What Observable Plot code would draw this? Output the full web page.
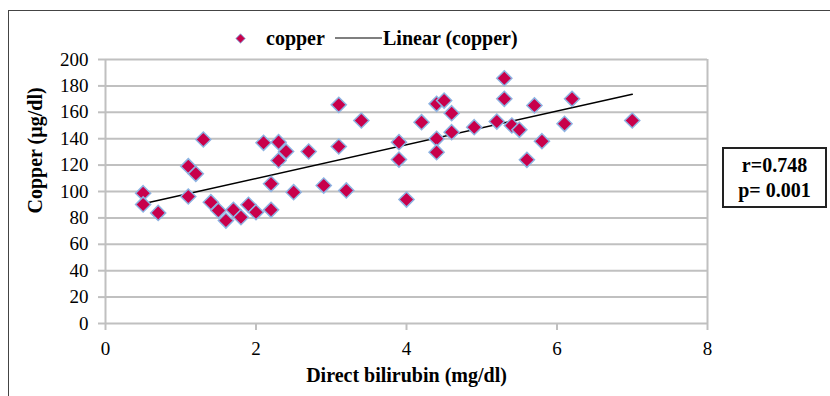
<!DOCTYPE html>
<html>
<head>
<meta charset="utf-8">
<script src="https://cdn.jsdelivr.net/npm/d3@7"></script>
<script src="https://cdn.jsdelivr.net/npm/@observablehq/plot@0.6"></script>
<style>
  html, body { margin: 0; padding: 0; background: #fff; }
  #wrap { position: relative; width: 830px; height: 396px; overflow: hidden; font-family: "Liberation Serif", "Times New Roman", serif; }
  #frame { position: absolute; left: 8px; top: 10px; width: 900px; height: 500px; border-left: 1.5px solid #444; border-top: 1.5px solid #444; box-sizing: border-box; }
  #legend { position: absolute; left: 0; top: 24px; width: 830px; height: 28px; font-weight: bold; font-size: 20px; color: #000; }
  #legend .item { position: absolute; top: 0; line-height: 28px; white-space: nowrap; }
  #stats { position: absolute; left: 722px; top: 147px; width: 105px; height: 61px; border: 2px solid #222; box-sizing: border-box; font-weight: bold; font-size: 20px; text-align: center; line-height: 25px; padding-top: 4px; }
  #chart { position: absolute; left: 0; top: 0; }
</style>
</head>
<body>
<div id="wrap">
  <div id="frame"></div>
  <div id="chart"></div>
  <div id="legend">
    <svg class="item" style="left:235px; top:9px" width="11" height="11" viewBox="0 0 11 11"><path d="M5.5 0.8 L10.2 5.5 L5.5 10.2 L0.8 5.5 Z" fill="#c8004b" stroke="#8db3e2" stroke-width="1"/></svg>
    <span class="item" id="lg1" style="left:266px"></span>
    <svg class="item" style="left:335px; top:13px" width="47" height="2"><line x1="0" y1="1" x2="47" y2="1" stroke="#000" stroke-width="1.2"/></svg>
    <span class="item" id="lg2" style="left:383px"></span>
  </div>
  <div id="stats"><div id="st1"></div><div id="st2"></div></div>
</div>
<script>
// Data
const bilirubin = [0.5, 0.5, 0.7, 1.1, 1.1, 1.2, 1.3, 1.4, 1.5, 1.6, 1.7, 1.8, 1.9, 2.0, 2.1, 2.2, 2.2, 2.3, 2.3, 2.4, 2.5, 2.7, 2.9, 3.1, 3.1, 3.2, 3.4, 3.9, 3.9, 4.0, 4.2, 4.4, 4.4, 4.4, 4.5, 4.6, 4.6, 4.9, 5.2, 5.3, 5.3, 5.4, 5.5, 5.6, 5.7, 5.8, 6.1, 6.2, 7.0];
const copper    = [98.7, 90.2, 83.8, 119.2, 96.2, 113.4, 139.4, 91.9, 85.6, 78, 86.1, 80.5, 89.9, 84.3, 136.9, 105.8, 86.1, 137.4, 123.5, 130.3, 99.5, 130.3, 104.5, 165.7, 134.1, 100.8, 153.8, 137.4, 124.2, 93.9, 152.5, 166.4, 139.9, 129.8, 168.9, 159.3, 144.9, 148.7, 153, 185.8, 170.2, 150, 146.7, 124, 165.2, 138.1, 151.3, 170.2, 153.8];
const xTicks = [0, 2, 4, 6, 8];
const yTicks = [0, 20, 40, 60, 80, 100, 120, 140, 160, 180, 200];
const seriesName = "copper";
const trendName = "Linear (copper)";
const xTitle = "Direct bilirubin (mg/dl)";
const yTitle = "Copper (µg/dl)";
const statLines = ["r=0.748", "p= 0.001"];

const data = bilirubin.map((x, i) => ({x, y: copper[i]}));

document.getElementById("lg1").textContent = seriesName;
document.getElementById("lg2").textContent = trendName;
document.getElementById("st1").textContent = statLines[0];
document.getElementById("st2").textContent = statLines[1];

const chart = Plot.plot({
  width: 830,
  height: 396,
  marginLeft: 105,
  marginRight: 123,
  marginTop: 59,
  marginBottom: 73,
  style: {fontFamily: "Liberation Serif, Times New Roman, serif", fontSize: "19px", color: "#000", background: "transparent", overflow: "visible"},
  x: {domain: [0, 8], label: null},
  y: {domain: [0, 200], label: null},
  marks: [
    Plot.ruleY(yTicks, {stroke: "#c0c0c0", strokeWidth: 2}),
    Plot.ruleX([8], {stroke: "#c0c0c0", strokeWidth: 2}),
    Plot.ruleX([0], {stroke: "#c0c0c0", strokeWidth: 2}),
    Plot.axisY({ticks: yTicks, tickSize: 7, tickPadding: 10, stroke: "#c0c0c0", strokeWidth: 2, fill: "#000", label: null, fontSize: 19}),
    Plot.axisX({ticks: xTicks, tickSize: 7, tickPadding: 11, stroke: "#c0c0c0", strokeWidth: 2, fill: "#000", label: null, fontSize: 19}),
    Plot.linearRegressionY(data, {x: "x", y: "y", ci: 0, stroke: "#000", strokeWidth: 1.5}),
    Plot.dot(data, {x: "x", y: "y", symbol: "diamond2", r: 6.8, fill: "#c8004b", stroke: "#8db3e2", strokeWidth: 1.5}),
    Plot.text([xTitle], {frameAnchor: "bottom", dy: 58, fontWeight: "bold", fontSize: 20, fill: "#000"}),
    Plot.text([yTitle], {frameAnchor: "left", dx: -70, dy: 22, rotate: -90, fontWeight: "bold", fontSize: 20, fill: "#000"})
  ]
});
document.getElementById("chart").appendChild(chart);
</script>
</body>
</html>
